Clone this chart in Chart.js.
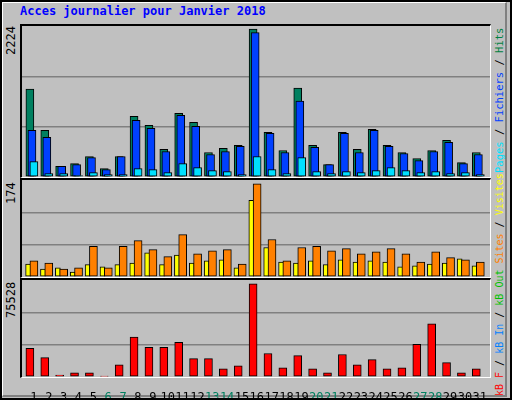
<!DOCTYPE html>
<html><head><meta charset="utf-8">
<script src="https://cdn.jsdelivr.net/npm/chart.js@4"></script>
<style>
body{margin:0;width:512px;height:400px;overflow:hidden;background:#c0c0c0;font-family:"DejaVu Sans Mono",monospace}
#frame{position:absolute;left:0;top:0;width:508px;height:396px;border:2px solid #000;background:#c0c0c0}
#inner{position:absolute;left:2px;top:2px;width:502px;height:392px;border-top:1px solid #fff;border-left:1px solid #fff;border-right:2px solid #808080;border-bottom:2px solid #808080}
.panel{position:absolute;left:20px;width:468px;border-top:2px solid #000;border-left:2px solid #000;border-right:1px solid #fff;border-bottom:1px solid #fff;background:#c0c0c0}
.panel canvas{position:absolute;left:0;top:0}
.t{position:absolute;white-space:nowrap;font-size:12px;line-height:13px}
.rot{transform-origin:0 0;transform:rotate(-90deg)}
#title{left:20px;top:5px;color:#0000ff;font-weight:bold;font-size:12px}
</style></head><body>
<div id="frame"></div><div id="inner"></div>
<div class="t" id="title">Acces journalier pour Janvier 2018</div>
<div class="panel" style="top:24px;height:151px"><canvas id="c1"></canvas></div>
<div class="panel" style="top:178px;height:97px"><canvas id="c2"></canvas></div>
<div class="panel" style="top:278px;height:97px"><canvas id="c3"></canvas></div>
<div class="t rot" style="left:5px;top:55px">2224</div>
<div class="t rot" style="left:5px;top:204px">174</div>
<div class="t rot" style="left:5px;top:318px">75528</div>
<div class="t rot" style="left:493px;top:173px;font-size:10.5px"><span style="color:#00e0ff">Pages</span> / <span style="color:#0040ff">Fichiers</span> / <span style="color:#008040">Hits</span></div>
<div class="t rot" style="left:493px;top:396px;font-size:10px"><span style="color:#ff0000">kB F</span> / <span style="color:#0080ff">kB In</span> / <span style="color:#00c000">kB Out</span> <span style="color:#ff8000">Sites</span> / <span style="color:#ffff00">Visites</span></div>
<canvas id="c4" style="position:absolute;left:22px;top:378px"></canvas>
<script>
const days=["1","2","3","4","5","6","7","8","9","10","11","12","13","14","15","16","17","18","19","20","21","22","23","24","25","26","27","28","29","30","31"];
const weekend=[6,7,13,14,20,21,27,28];
const hits=[1321,701,161,202,308,126,308,913,777,414,958,822,368,429,474,2224,671,398,1336,474,187,671,414,716,474,368,277,398,550,217,368];
const files=[701,595,161,187,292,111,308,852,731,383,928,762,338,383,459,2168,656,368,1140,444,187,656,368,701,459,353,247,383,519,202,338];
const pages=[232,50,50,20,66,35,35,126,111,66,202,141,96,81,35,308,111,50,292,81,50,81,66,96,141,96,66,81,50,66,35];
const visits=[24,15,17,9,23,19,23,26,45,23,41,26,30,32,17,143,55,28,26,30,23,32,28,30,28,19,21,24,26,34,21];
const sites=[30,26,15,17,57,17,57,68,51,38,79,43,49,51,24,174,70,30,55,57,49,53,43,47,53,43,28,47,36,32,28];
const kbytes=[23150,15710,1650,3300,3300,800,9920,32250,23980,23980,28110,14880,14880,6610,9100,75528,19020,7440,17360,6610,3300,18190,9920,14060,6610,7440,26460,43000,11580,3300,6610];
const MAXH=2224,MAXV=174,MAXK=75528;
const XMIN=0.2,XMAX=31.65;
function pts(arr,off){return arr.map((v,i)=>({x:i+1+off,y:v}));}
function ds(arr,off,color,w,ord){return {data:pts(arr,off),backgroundColor:color,borderColor:'#000',borderWidth:1,barThickness:w,borderSkipped:false,grouped:false,order:ord};}
function opts(max){return {responsive:false,animation:false,events:[],layout:{padding:0},
 plugins:{legend:{display:false},tooltip:{enabled:false}},
 scales:{x:{type:'linear',offset:false,min:XMIN,max:XMAX,display:false},
  y:{min:0,max:max,display:true,border:{display:false},ticks:{display:false},
     afterBuildTicks:a=>{a.ticks=[0,max/3,2*max/3,max].map(v=>({value:v}));},
     grid:{drawTicks:false,color:c=>(c.index===1||c.index===2)?'#808080':'rgba(0,0,0,0)',lineWidth:1.5}}}};}
function mk(id,w,h,datasets,max){const c=document.getElementById(id);c.width=w;c.height=h;c.style.width=w+'px';c.style.height=h+'px';
 return new Chart(c,{type:'bar',data:{datasets},options:opts(max)});}
mk('c1',468,151,[ds(hits,-0.27,'#008060',8,3),ds(files,-0.13,'#0040ff',8,2),ds(pages,0,'#00e0ff',8,1)],MAXH*1.02);
mk('c2',468,97,[ds(visits,-0.39,'#ffff00',5,2),ds(sites,0,'#ff8000',8,1)],MAXV*1.04);
mk('c3',468,97,[ds(kbytes,-0.27,'#ff0000',8,1)],MAXK*1.04);
const c4=document.getElementById('c4');c4.width=468;c4.height=20;c4.style.width='468px';c4.style.height='20px';
new Chart(c4,{type:'scatter',data:{datasets:[{data:[]}]},options:{responsive:false,animation:false,events:[],layout:{padding:0},
 plugins:{legend:{display:false},tooltip:{enabled:false}},
 scales:{y:{display:false},x:{type:'linear',offset:false,min:XMIN,max:XMAX,position:'bottom',border:{display:false},grid:{display:false,drawTicks:false},
  afterBuildTicks:a=>{a.ticks=days.map((d,i)=>({value:i+1}));},
  ticks:{autoSkip:false,maxRotation:0,padding:3,font:{family:'DejaVu Sans Mono',size:12},
   color:c=>weekend.includes(c.tick.value)?'#008060':'#000',
   callback:(v)=>days[v-1]}}}}});
</script></body></html>
